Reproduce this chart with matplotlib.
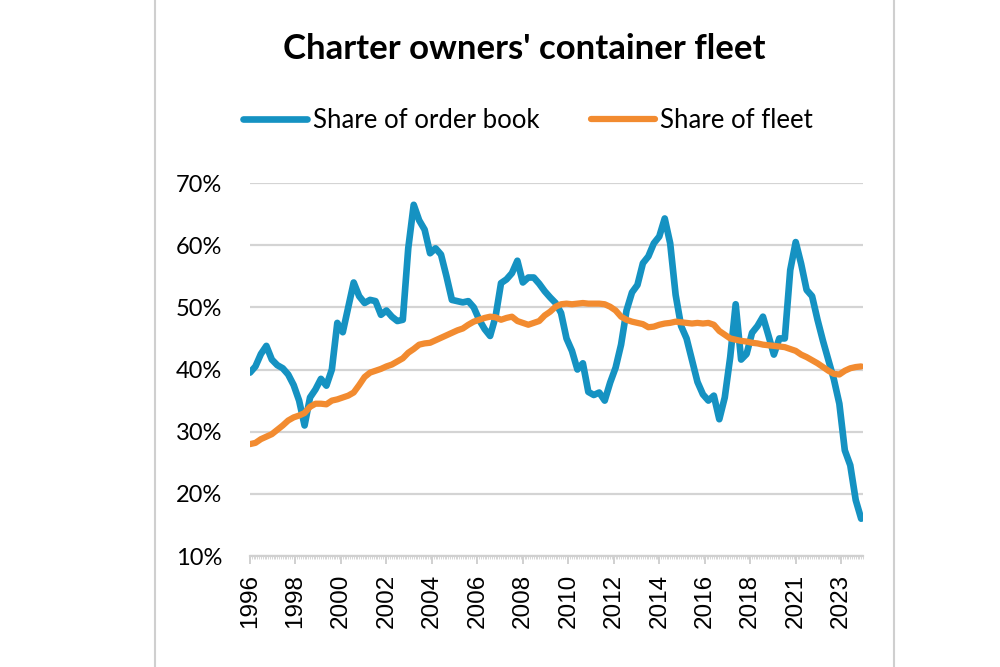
import matplotlib.pyplot as plt
import numpy as np

# quarterly readings, Jan 1996 .. Jan 2024 (percent)
order_book = [39.5, 40.5, 42.5, 43.8, 41.6, 40.7, 40.2, 39.2, 37.5, 35.0,
              31.0, 35.5, 36.8, 38.5, 37.4, 40.0, 47.5, 46.0, 50.0, 54.0,
              51.8, 50.7, 51.2, 51.0, 48.8, 49.5, 48.5, 47.8, 48.0, 59.5,
              66.5, 64.0, 62.5, 58.7, 59.5, 58.5, 55.0, 51.2, 51.0, 50.8,
              51.0, 50.0, 48.0, 46.5, 45.4, 48.5, 53.9, 54.5, 55.5, 57.5,
              54.0, 54.8, 54.8, 53.8, 52.6, 51.6, 50.7, 49.1, 45.0, 43.0,
              40.0, 41.0, 36.4, 35.9, 36.3, 35.0, 37.9, 40.3, 44.0, 49.5,
              52.4, 53.6, 57.1, 58.2, 60.3, 61.4, 64.3, 60.3, 52.0, 47.0,
              45.0, 41.5, 38.0, 36.0, 35.0, 35.8, 32.0, 35.5, 42.0, 50.5,
              41.6, 42.5, 45.9, 47.0, 48.5, 45.5, 42.4, 45.0, 45.0, 56.0,
              60.5, 57.0, 52.8, 51.8, 48.0, 44.6, 41.5, 38.4, 34.5, 27.0,
              24.6, 19.0, 16.0]
fleet = [28.0, 28.2, 28.8, 29.2, 29.6, 30.3, 31.0, 31.8, 32.3, 32.6,
         33.0, 34.0, 34.5, 34.5, 34.4, 35.0, 35.2, 35.5, 35.8, 36.3,
         37.5, 38.8, 39.5, 39.8, 40.1, 40.5, 40.8, 41.3, 41.8, 42.7,
         43.3, 44.0, 44.2, 44.3, 44.7, 45.1, 45.5, 45.9, 46.3, 46.6,
         47.2, 47.7, 48.0, 48.3, 48.5, 48.4, 48.0, 48.3, 48.5, 47.8,
         47.5, 47.2, 47.5, 47.8, 48.7, 49.3, 50.1, 50.5, 50.6, 50.5,
         50.6, 50.7, 50.6, 50.6, 50.6, 50.5, 50.1, 49.5, 48.5, 48.0,
         47.7, 47.5, 47.3, 46.8, 46.9, 47.2, 47.4, 47.5, 47.7, 47.6,
         47.5, 47.4, 47.5, 47.4, 47.5, 47.2, 46.2, 45.6, 45.0, 44.8,
         44.6, 44.5, 44.3, 44.2, 44.0, 43.9, 43.8, 43.7, 43.6, 43.3,
         43.0, 42.4, 42.0, 41.5, 41.0, 40.4, 39.8, 39.3, 39.2, 39.8,
         40.2, 40.4, 40.5]
tick_labels = ['1996', '1998', '2000', '2002', '2004', '2006', '2008',
               '2010', '2012', '2014', '2016', '2018', '2021', '2023']

months = np.arange(len(order_book)) * 3

fig = plt.figure(figsize=(10, 6.67), dpi=100)
ax = fig.add_axes([0.25, 0.1664, 0.613, 0.5592])

ax.plot(months, order_book, color='#1592c2', lw=4.8, solid_joinstyle='round',
        solid_capstyle='round', label='Share of order book')
ax.plot(months, fleet, color='#f28b30', lw=4.5, solid_joinstyle='round',
        solid_capstyle='round', label='Share of fleet')

ax.set_ylim(10, 70)
ax.set_xlim(0, 337)
ax.set_yticks(np.arange(10, 71, 10))
ax.set_yticklabels(['%d%%' % v for v in range(10, 71, 10)],
                   fontsize=17, family='Lato')
ax.yaxis.grid(True, color='#d4d4d4', lw=1.6)
ax.set_axisbelow(True)
ax.tick_params(axis='y', length=0, pad=20)

ax.set_xticks(np.arange(0, 326, 25))
ax.set_xticklabels(tick_labels, rotation=90, fontsize=17.5,
                   family='Liberation Sans')
ax.set_xticks(np.arange(0, 338, 1), minor=True)
ax.tick_params(axis='x', which='major', length=6, color='#c8c8c8', width=1.2,
               pad=7)
ax.tick_params(axis='x', which='minor', length=2, color='#d0d0d0', width=0.6)

for s in ['top', 'right', 'left']:
    ax.spines[s].set_visible(False)
ax.spines['bottom'].set_color('#d0d0d0')
ax.spines['bottom'].set_linewidth(1.6)

fig.text(0.524, 0.927, "Charter owners' container fleet", ha='center',
         va='center', fontsize=25, fontweight='bold', family='Lato')
fig.legend(loc='center', bbox_to_anchor=(0.528, 0.82), ncol=2, frameon=False,
           prop={'family': 'Lato', 'size': 18.5}, handlelength=2.5,
           handletextpad=0.2, columnspacing=2.0)

# chart frame edges
fig.add_artist(plt.Line2D([0.155, 0.155], [0, 1], color='#cfcfcf', lw=1.5))
fig.add_artist(plt.Line2D([0.894, 0.894], [0, 1], color='#cfcfcf', lw=1.5))

fig.savefig('out.png', dpi=100)
